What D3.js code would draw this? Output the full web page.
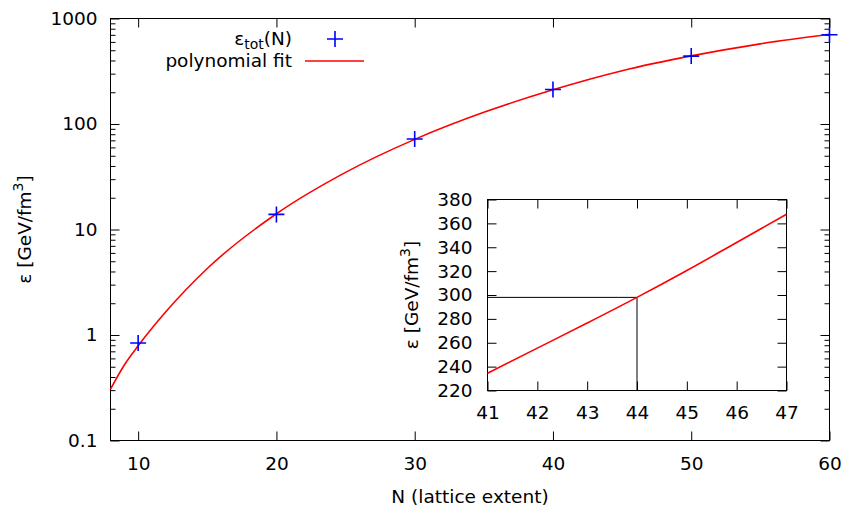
<!DOCTYPE html>
<html>
<head>
<meta charset="utf-8">
<script src="https://cdn.jsdelivr.net/npm/d3@7"></script>
<style>
body { margin: 0; background: #fff; }
text { font-family: "DejaVu Sans", sans-serif; fill: #000; }
.axis path.domain { display: none; }
.axis line { stroke: #000; stroke-width: 1; }
.axis text { font-size: 18.5px; }
</style>
</head>
<body>
<svg id="chart" width="845" height="509"></svg>
<script>
var sizeN = [10, 20, 30, 40, 50, 60];
var epsTot = [0.84, 13.9, 72, 212, 440, 702];

var fitN = [8, 9, 10, 12, 15, 20, 25, 30, 35, 40, 45, 50, 55, 60];
var fitEps = [0.307, 0.52, 0.79, 1.66, 4.27, 14.1, 34.8, 71.5, 129, 211, 320, 442, 575, 708];

var insetN = [41, 42, 43, 44, 45, 46, 47];
var insetEps = [234.5, 255.5, 276.5, 298, 320.5, 344, 367.6];
var markN = 44, markEps = 298;

var xTicks = [10, 20, 30, 40, 50, 60];
var yTicks = [0.1, 1, 10, 100, 1000];
var yTickLabels = ["0.1", "1", "10", "100", "1000"];
var insetXTicks = [41, 42, 43, 44, 45, 46, 47];
var insetYTicks = [220, 240, 260, 280, 300, 320, 340, 360, 380];

var svg = d3.select("#chart");

var x = d3.scaleLinear().domain([8, 60]).range([110.5, 829.5]),
    y = d3.scaleLog().domain([0.1, 1000]).range([440.5, 18.5]);

var pLeft = x.range()[0], pRight = x.range()[1],
    pTop = y.range()[1], pBottom = y.range()[0];

var minor = y.ticks().filter(function(v) {
    return yTicks.indexOf(v) < 0;
});

var main = svg.append("g");

main.append("g").attr("class", "axis")
    .attr("transform", "translate(0," + pBottom + ")")
    .call(d3.axisBottom(x).tickValues(xTicks).tickSizeInner(-9).tickSizeOuter(0).tickPadding(16).tickFormat(d3.format("d")));
main.append("g").attr("class", "axis")
    .attr("transform", "translate(0," + pTop + ")")
    .call(d3.axisTop(x).tickValues(xTicks).tickSizeInner(-9).tickSizeOuter(0).tickFormat(""));
main.append("g").attr("class", "axis")
    .attr("transform", "translate(" + pLeft + ",0)")
    .call(d3.axisLeft(y).tickValues(yTicks).tickSizeInner(-9).tickSizeOuter(0).tickPadding(13)
        .tickFormat(function(d, i) { return yTickLabels[i]; }));
main.append("g").attr("class", "axis")
    .attr("transform", "translate(" + pLeft + ",0)")
    .call(d3.axisLeft(y).tickValues(minor).tickSizeInner(-5).tickSizeOuter(0).tickFormat(""));
main.append("g").attr("class", "axis")
    .attr("transform", "translate(" + pRight + ",0)")
    .call(d3.axisRight(y).tickValues(yTicks).tickSizeInner(-9).tickSizeOuter(0).tickFormat(""));
main.append("g").attr("class", "axis")
    .attr("transform", "translate(" + pRight + ",0)")
    .call(d3.axisRight(y).tickValues(minor).tickSizeInner(-5).tickSizeOuter(0).tickFormat(""));

main.append("rect")
    .attr("x", pLeft).attr("y", pTop)
    .attr("width", pRight - pLeft).attr("height", pBottom - pTop)
    .attr("fill", "none").attr("stroke", "#000").attr("stroke-width", 1);

var fitLine = d3.line()
    .x(function(d) { return x(d[0]); })
    .y(function(d) { return y(d[1]); })
    .curve(d3.curveMonotoneX);

main.append("path")
    .datum(d3.zip(fitN, fitEps))
    .attr("d", fitLine)
    .attr("fill", "none").attr("stroke", "#ff0000").attr("stroke-width", 1.6);

main.selectAll("path.pt")
    .data(d3.zip(sizeN, epsTot))
    .enter()
    .append("path")
    .attr("class", "pt")
    .attr("d", "M-8,0H8M0,-8V8")
    .attr("transform", function(d) { return "translate(" + x(d[0]) + "," + y(d[1]) + ")"; })
    .attr("stroke", "#0000ff").attr("stroke-width", 1.6).attr("fill", "none");

main.append("text")
    .attr("x", (pLeft + pRight) / 2).attr("y", 503)
    .attr("text-anchor", "middle").style("font-size", "18.5px")
    .text("N (lattice extent)");

var ylab = main.append("text")
    .attr("transform", "translate(30.5," + ((pTop + pBottom) / 2) + ") rotate(-90)")
    .attr("text-anchor", "middle").style("font-size", "18.5px");
ylab.append("tspan").text("ε [GeV/fm");
ylab.append("tspan").attr("dy", -8).style("font-size", "14px").text("3");
ylab.append("tspan").attr("dy", 8).text("]");

// legend
var leg = main.append("g");
var l1 = leg.append("text").attr("x", 292).attr("y", 45)
    .attr("text-anchor", "end").style("font-size", "18.5px");
l1.append("tspan").text("ε");
l1.append("tspan").attr("dy", 4).style("font-size", "14px").text("tot");
l1.append("tspan").attr("dy", -4).text("(N)");
leg.append("path")
    .attr("d", "M-8,0H8M0,-8V8")
    .attr("transform", "translate(335,39)")
    .attr("stroke", "#0000ff").attr("stroke-width", 1.6).attr("fill", "none");
leg.append("text").attr("x", 292).attr("y", 67)
    .attr("text-anchor", "end").style("font-size", "18.5px")
    .text("polynomial fit");
leg.append("line")
    .attr("x1", 305).attr("x2", 364).attr("y1", 61).attr("y2", 61)
    .attr("stroke", "#ff0000").attr("stroke-width", 1.6);

// inset
var ix = d3.scaleLinear().domain([41, 47]).range([487.5, 786.5]),
    iy = d3.scaleLinear().domain([220, 380]).range([390.5, 199.5]);

var il = ix.range()[0], ir = ix.range()[1],
    it = iy.range()[1], ib = iy.range()[0];

var inset = svg.append("g");

inset.append("rect")
    .attr("x", il).attr("y", it)
    .attr("width", ir - il).attr("height", ib - it)
    .attr("fill", "#fff");

inset.append("g").attr("class", "axis")
    .attr("transform", "translate(0," + ib + ")")
    .call(d3.axisBottom(ix).tickValues(insetXTicks).tickSizeInner(-9).tickSizeOuter(0).tickPadding(15).tickFormat(d3.format("d")));
inset.append("g").attr("class", "axis")
    .attr("transform", "translate(0," + it + ")")
    .call(d3.axisTop(ix).tickValues(insetXTicks).tickSizeInner(-9).tickSizeOuter(0).tickFormat(""));
inset.append("g").attr("class", "axis")
    .attr("transform", "translate(" + il + ",0)")
    .call(d3.axisLeft(iy).tickValues(insetYTicks).tickSizeInner(-9).tickSizeOuter(0).tickPadding(15).tickFormat(d3.format("d")));
inset.append("g").attr("class", "axis")
    .attr("transform", "translate(" + ir + ",0)")
    .call(d3.axisRight(iy).tickValues(insetYTicks).tickSizeInner(-9).tickSizeOuter(0).tickFormat(""));

inset.append("rect")
    .attr("x", il).attr("y", it)
    .attr("width", ir - il).attr("height", ib - it)
    .attr("fill", "none").attr("stroke", "#000").attr("stroke-width", 1);

inset.append("path")
    .attr("d", "M" + il + "," + iy(markEps) + "H" + ix(markN) + "V" + ib)
    .attr("fill", "none").attr("stroke", "#000").attr("stroke-width", 1);

var insetLine = d3.line()
    .x(function(d) { return ix(d[0]); })
    .y(function(d) { return iy(d[1]); })
    .curve(d3.curveMonotoneX);

inset.append("path")
    .datum(d3.zip(insetN, insetEps))
    .attr("d", insetLine)
    .attr("fill", "none").attr("stroke", "#ff0000").attr("stroke-width", 1.6);

var iylab = inset.append("text")
    .attr("transform", "translate(417.5," + ((it + ib) / 2) + ") rotate(-90)")
    .attr("text-anchor", "middle").style("font-size", "18.5px");
iylab.append("tspan").text("ε [GeV/fm");
iylab.append("tspan").attr("dy", -8).style("font-size", "14px").text("3");
iylab.append("tspan").attr("dy", 8).text("]");
</script>
</body>
</html>
